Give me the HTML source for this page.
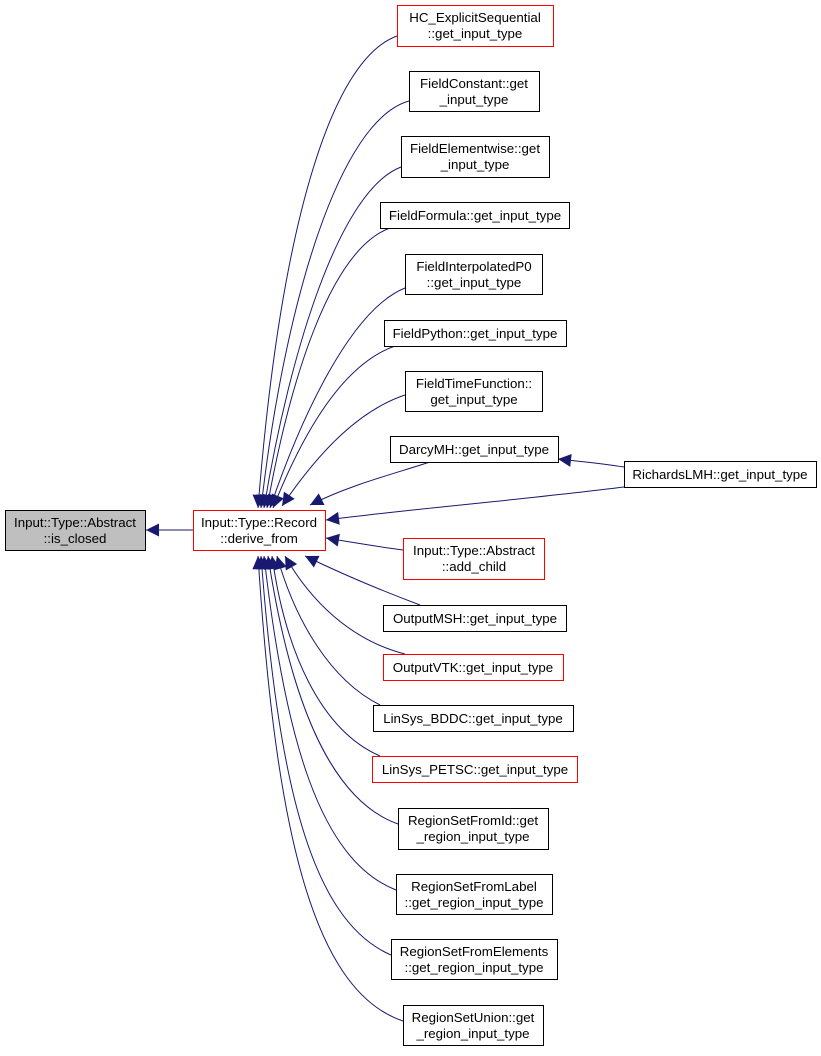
<!DOCTYPE html>
<html><head><meta charset="utf-8"><style>
body{margin:0;background:#fff;}
text{font-family:"Liberation Sans",sans-serif;font-size:13.3px;fill:#000;}
</style></head><body>
<svg width="821" height="1051" viewBox="0 0 821 1051" xmlns="http://www.w3.org/2000/svg">
<defs><marker id="a" viewBox="0 0 10 10" refX="10" refY="5" markerWidth="14" markerHeight="13" markerUnits="userSpaceOnUse" orient="auto"><path d="M0,0L10,5L0,10z" fill="#191970"/></marker></defs>
<g fill="none" stroke="#191970" stroke-width="1" marker-end="url(#a)">
<path d="M193,530 L146,530"/>
<path d="M397,36 C330,60 280,230 258,508"/>
<path d="M409,101 C340,120 285,300 261,508"/>
<path d="M401,167 C340,190 290,350 264,508"/>
<path d="M390,228 C330,250 290,380 267,508"/>
<path d="M405,288 C350,310 300,420 270,508"/>
<path d="M395,346 C340,365 300,440 273,508"/>
<path d="M405,395 C360,410 320,450 282,506"/>
<path d="M430,462 C390,475 350,485 310,505"/>
<path d="M624,487 C520,500 420,508 326,520"/>
<path d="M403,550 C380,547 350,542 326,538"/>
<path d="M420,605 C380,590 340,573 305,556"/>
<path d="M405,654 C350,640 310,600 285,556"/>
<path d="M380,705 C330,680 295,620 277,556"/>
<path d="M380,756 C320,730 285,650 272,556"/>
<path d="M398,824 C330,800 290,700 268,556"/>
<path d="M396,890 C320,860 285,740 264,556"/>
<path d="M391,955 C310,920 278,780 261,556"/>
<path d="M403,1021 C310,990 275,820 258,556"/>
<path d="M624,467 C600,463 585,462 558,459"/>
</g>
<g stroke-width="1">
<rect x="5.5" y="510.5" width="140" height="40" fill="#bfbfbf" stroke="#000"/>
<rect x="193.5" y="510.5" width="132" height="40" fill="#fff" stroke="#ff0000"/>
<rect x="397.5" y="5.5" width="156" height="41" fill="#fff" stroke="#ff0000"/>
<rect x="409.5" y="71.5" width="130" height="40" fill="#fff" stroke="#000"/>
<rect x="401.5" y="136.5" width="148" height="41" fill="#fff" stroke="#000"/>
<rect x="380.5" y="202.5" width="189" height="26" fill="#fff" stroke="#000"/>
<rect x="405.5" y="254.5" width="137" height="40" fill="#fff" stroke="#000"/>
<rect x="384.5" y="320.5" width="182" height="26" fill="#fff" stroke="#000"/>
<rect x="405.5" y="371.5" width="137" height="40" fill="#fff" stroke="#000"/>
<rect x="390.5" y="436.5" width="168" height="26" fill="#fff" stroke="#000"/>
<rect x="624.5" y="461.5" width="192" height="26" fill="#fff" stroke="#000"/>
<rect x="403.5" y="538.5" width="141" height="41" fill="#fff" stroke="#ff0000"/>
<rect x="383.5" y="605.5" width="183" height="26" fill="#fff" stroke="#000"/>
<rect x="383.5" y="654.5" width="180" height="26" fill="#fff" stroke="#ff0000"/>
<rect x="373.5" y="705.5" width="200" height="26" fill="#fff" stroke="#000"/>
<rect x="372.5" y="756.5" width="205" height="26" fill="#fff" stroke="#ff0000"/>
<rect x="398.5" y="808.5" width="150" height="41" fill="#fff" stroke="#000"/>
<rect x="396.5" y="874.5" width="156" height="40" fill="#fff" stroke="#000"/>
<rect x="391.5" y="939.5" width="166" height="40" fill="#fff" stroke="#000"/>
<rect x="403.5" y="1005.5" width="140" height="40" fill="#fff" stroke="#000"/>
</g>
<g text-anchor="middle">
<text x="75" y="527">Input::Type::Abstract</text><text x="75" y="543">::is_closed</text>
<text x="259" y="527">Input::Type::Record</text><text x="259" y="543">::derive_from</text>
<text x="475" y="22">HC_ExplicitSequential</text><text x="475" y="38">::get_input_type</text>
<text x="474" y="88">FieldConstant::get</text><text x="474" y="104">_input_type</text>
<text x="475" y="153">FieldElementwise::get</text><text x="475" y="169">_input_type</text>
<text x="475" y="220">FieldFormula::get_input_type</text>
<text x="474" y="271">FieldInterpolatedP0</text><text x="474" y="287">::get_input_type</text>
<text x="475" y="338">FieldPython::get_input_type</text>
<text x="474" y="388">FieldTimeFunction::</text><text x="474" y="404">get_input_type</text>
<text x="474" y="454">DarcyMH::get_input_type</text>
<text x="720" y="479">RichardsLMH::get_input_type</text>
<text x="474" y="555">Input::Type::Abstract</text><text x="474" y="571">::add_child</text>
<text x="475" y="623">OutputMSH::get_input_type</text>
<text x="473" y="672">OutputVTK::get_input_type</text>
<text x="473" y="723">LinSys_BDDC::get_input_type</text>
<text x="475" y="774">LinSys_PETSC::get_input_type</text>
<text x="473" y="825">RegionSetFromId::get</text><text x="473" y="841">_region_input_type</text>
<text x="474" y="891">RegionSetFromLabel</text><text x="474" y="907">::get_region_input_type</text>
<text x="474" y="956">RegionSetFromElements</text><text x="474" y="972">::get_region_input_type</text>
<text x="473" y="1022">RegionSetUnion::get</text><text x="473" y="1038">_region_input_type</text>
</g>
</svg>
</body></html>
